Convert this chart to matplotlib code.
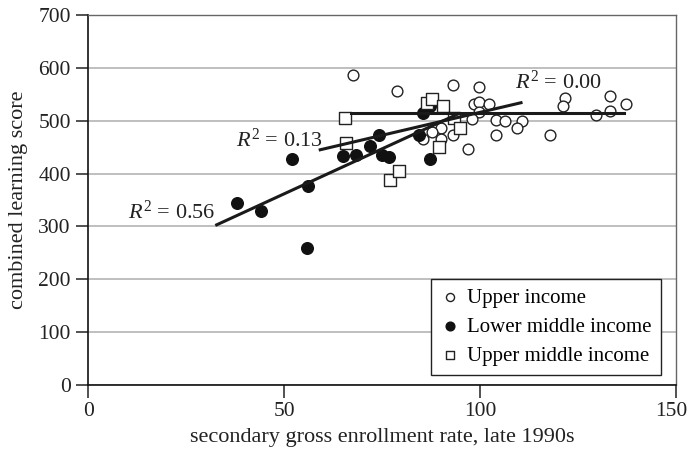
import matplotlib
matplotlib.use("Agg")
import matplotlib.pyplot as plt
from matplotlib.transforms import ScaledTranslation

# ---------------------------------------------------------------------------
# Data
# ---------------------------------------------------------------------------
upper_x = [67.5, 78.9, 93.0, 99.7, 98.3, 99.7, 102.3, 99.7, 97.9, 104.1, 106.2,
           110.7, 109.4, 104.1, 117.7, 96.9, 121.6, 121.1, 129.4, 133.0, 133.2,
           137.1, 90.0, 87.7, 85.5, 90.0, 93.0]
upper_y = [586, 557, 567, 563, 532, 535, 532, 517, 504, 501, 499,
           499, 486, 473, 473, 446, 542, 528, 511, 547, 518,
           532, 486, 479, 465, 465, 473]

lower_mid_x = [38.1, 44.2, 52.1, 55.8, 56.0, 64.9, 68.4, 71.9, 74.2, 75.0,
               76.8, 84.3, 85.5, 87.2, 87.3]
lower_mid_y = [344, 330, 428, 260, 376, 434, 436, 453, 473, 436,
               431, 472, 515, 528, 428]

upper_mid_x = [65.4, 65.8, 76.9, 79.3, 86.4, 87.8, 90.4, 93.4, 94.8, 89.6]
upper_mid_y = [506, 457, 388, 405, 534, 541, 528, 506, 486, 450]

# trend line end points (x0, x1), (y0, y1)
fit_upper_x, fit_upper_y = [67.0, 136.6], [515, 515]
fit_umid_x, fit_umid_y = [59.2, 110.4], [445, 534]
fit_lmid_x, fit_lmid_y = [32.8, 94.4], [303, 513]

r2_labels = ["0.00", "0.13", "0.56"]

# ---------------------------------------------------------------------------
# Style
# ---------------------------------------------------------------------------
plt.rcParams["font.family"] = ["Liberation Serif", "DejaVu Serif"]
plt.rcParams["font.size"] = 15
plt.rcParams["mathtext.fontset"] = "custom"
plt.rcParams["mathtext.rm"] = "Liberation Serif"
plt.rcParams["mathtext.it"] = "Liberation Serif:italic"

fig = plt.figure(figsize=(6.88, 4.54), dpi=100)
ax = fig.add_axes([0.128, 0.152, 0.855, 0.815])

ax.set_xlim(0, 150)
ax.set_ylim(0, 700)
ax.set_xticks([0, 50, 100, 150])
ax.set_yticks(range(0, 701, 100))
ax.yaxis.grid(True, color="#b4b4b4", linewidth=1.2)
ax.set_axisbelow(True)
ax.tick_params(direction="out", length=9, width=1.1, colors="#222222",
               labelsize=15.5)

# keep the "150" label inside the canvas
last = ax.get_xticklabels()[-1]
last.set_transform(last.get_transform() + ScaledTranslation(-5 / 100, 0, fig.dpi_scale_trans))

for side in ("left", "bottom"):
    ax.spines[side].set_color("#111111")
    ax.spines[side].set_linewidth(1.2)
for side in ("top", "right"):
    ax.spines[side].set_color("#666666")
    ax.spines[side].set_linewidth(1.0)

# trend lines
line_kw = dict(color="#1a1a1a", linewidth=2.2, zorder=4)
ax.plot(fit_upper_x, fit_upper_y, **line_kw)
ax.plot(fit_umid_x, fit_umid_y, **line_kw)
ax.plot(fit_lmid_x, fit_lmid_y, **line_kw)

# points
ax.scatter(upper_x, upper_y, s=60, marker="o", facecolors="white",
           edgecolors="#222222", linewidths=1.0, zorder=3, label="Upper income")
ax.scatter(lower_mid_x, lower_mid_y, s=70, marker="o", facecolors="#111111",
           edgecolors="#111111", linewidths=1.0, zorder=3,
           label="Lower middle income")
ax.scatter(upper_mid_x, upper_mid_y, s=70, marker="s", facecolors="white",
           edgecolors="#222222", linewidths=1.0, zorder=3,
           label="Upper middle income")

# R^2 annotations
ax.text(108.9, 573, r"$R^2$ = " + r2_labels[0], ha="left", va="center",
        fontsize=16, color="#222222")
ax.text(59.9, 463, r"$R^2$ = " + r2_labels[1], ha="right", va="center",
        fontsize=16, color="#222222")
ax.text(32.4, 327, r"$R^2$ = " + r2_labels[2], ha="right", va="center",
        fontsize=16, color="#222222")

ax.set_xlabel("secondary gross enrollment rate, late 1990s", fontsize=16,
              color="#222222", labelpad=5)
ax.set_ylabel("combined learning score", fontsize=16, color="#222222",
              labelpad=7)

leg = ax.legend(loc="lower right", bbox_to_anchor=(0.974, 0.027),
                borderaxespad=0, fancybox=False, framealpha=1,
                edgecolor="#222222", handletextpad=0.3, handlelength=1.0,
                markerscale=0.75, fontsize=15, labelspacing=0.45,
                borderpad=0.45)
leg.get_frame().set_linewidth(1.0)

fig.savefig("out.png", dpi=100)
plt.close(fig)
